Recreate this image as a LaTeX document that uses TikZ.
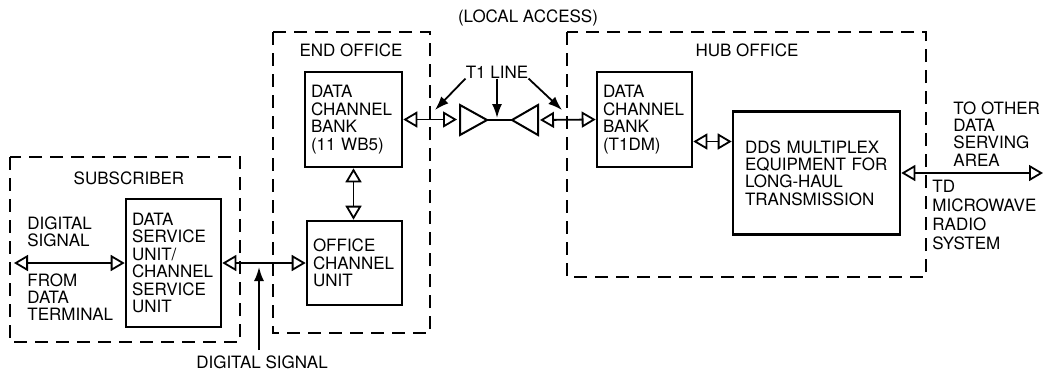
\documentclass[tikz,border=0pt]{standalone}
\usepackage{fontspec}
\setmainfont{TeX Gyre Heros}
\usetikzlibrary{arrows.meta,positioning}

\begin{document}
\begin{tikzpicture}[x=0.5pt,y=-0.5pt,
    every node/.style={font=\fontsize{8.5}{8.7}\selectfont, inner sep=0pt},
    region/.style={line width=1pt, dash pattern=on 6.5pt off 4pt},
    unit/.style={draw, line width=1.3pt, align=left, inner xsep=3pt, inner ysep=0pt},
    link/.style={line width=0.9pt},
    dual/.style={link, {Triangle[open,length=7pt,width=8pt]}-{Triangle[open,length=7pt,width=8pt]}},
    pointer/.style={link, -{Latex[length=7pt,width=5pt]}},
    amp/.style={line width=1pt, line join=miter}]
  \useasboundingbox (0,0) rectangle (1048,371);

  \draw[region] (10,157) rectangle (240,342);
  \draw[region] (273,32) rectangle (430,333);
  \draw[region] (567,32) rectangle (926,277);

  \node (subscriber) at (129,178) {SUBSCRIBER};
  \node (endoffice) at (351,50) {END OFFICE};
  \node (huboffice) at (747,50) {HUB OFFICE};
  \node (localaccess) at (528,18) {(LOCAL ACCESS)};

  \node[unit, text width=41.5pt, minimum height=64pt] (dsu) at (173.5,263)
    {DATA\\SERVICE\\UNIT/\\CHANNEL\\SERVICE\\UNIT};
  \node[unit, text width=42.5pt, minimum height=47.5pt] (dcbA) at (353.5,119.5)
    {DATA\\CHANNEL\\BANK\\(11 WB5)};
  \node[unit, text width=41.5pt, minimum height=42pt] (ocu) at (354.5,263)
    {OFFICE\\CHANNEL\\UNIT};
  \node[unit, text width=41.5pt, minimum height=47.5pt] (dcbB) at (644.5,119.5)
    {DATA\\CHANNEL\\BANK\\(T1DM)};
  \node[unit, inner xsep=6pt, text width=71.5pt, minimum height=61.5pt] (dds) at (816.5,173)
    {DDS MULTIPLEX\\EQUIPMENT FOR\\LONG-HAUL\\TRANSMISSION};

  \node[anchor=north west, align=left] (digin) at (27,216) {DIGITAL\\SIGNAL};
  \node[anchor=north west, align=left] (terminal) at (27,273) {FROM\\DATA\\TERMINAL};
  \node (digsig) at (262,362) {DIGITAL SIGNAL};
  \node[anchor=north west, align=left] (otherarea) at (953,101) {TO OTHER\\DATA\\SERVING\\AREA};
  \node[anchor=north west, align=left, font=\fontsize{8.5}{9.4}\selectfont] (microwave) at (932,180)
    {TD\\MICROWAVE\\RADIO\\SYSTEM};
  \node (t1) at (497,72) {T1 LINE};

  \coordinate (termend) at (14,263);
  \coordinate (digfoot) at (259,350);
  \coordinate (amp1in) at (460,120);
  \coordinate (amp1out) at (487,120);
  \coordinate (amp2out) at (512,120);
  \coordinate (amp2in) at (538,120);
  \coordinate (hubtap) at ([yshift=-11pt]dcbB.east);
  \coordinate (farend) at (1043,173);
  \coordinate (t1left) at (435,110);
  \coordinate (t1mid) at (497,118);
  \coordinate (t1right) at (562,110);

  \draw[amp] (460,105) -- (amp1out) -- (460,135) -- cycle;
  \draw[amp] (538,105) -- (amp2out) -- (538,135) -- cycle;

  \draw[dual] (termend) -- (dsu.west);
  \draw[dual] (dsu.east) -- (ocu.west);
  \draw[pointer, shorten >=2pt] (digfoot) -- (digfoot |- dsu.east);
  \draw[dual] (dcbA.south) -- (dcbA.south |- ocu.north);
  \draw[dual, shorten >=1.5pt] (dcbA.east) -- (dcbA.east -| amp1in);
  \draw[link] (amp1out) -- (amp2out);
  \draw[dual, shorten <=1pt] (amp2in) -- (dcbB.west);
  \draw[dual] (hubtap) -- (hubtap -| dds.west);
  \draw[dual] (dds.east) -- (farend);
  \draw[pointer] (t1.south west) -- (t1left);
  \draw[pointer] (t1.south) -- (t1mid);
  \draw[pointer] (t1.south east) -- (t1right);
\end{tikzpicture}
\end{document}
